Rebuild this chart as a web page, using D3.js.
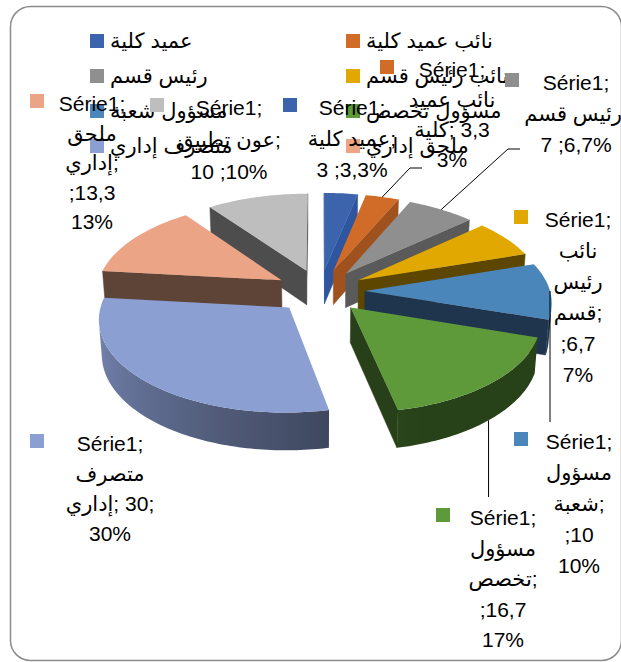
<!DOCTYPE html>
<html>
<head>
<meta charset="utf-8">
<script src="https://cdn.jsdelivr.net/npm/d3@7"></script>
<style>
body { margin: 0; background: #fff; }
svg text { font-family: "Liberation Sans", "DejaVu Sans", Arial, sans-serif; fill: #000; }
</style>
</head>
<body>
<div id="chart"></div>
<script>
// ---- data ----
var seriesName = "Série1";
var categories = ["عميد كلية", "نائب عميد كلية", "رئيس قسم", "نائب رئيس قسم", "مسؤول شعبة",
                  "مسؤول تخصص", "متصرف إداري", "ملحق إداري", "عون تطبيق"];
var values = [3.3, 3.3, 6.7, 6.7, 10, 16.7, 30, 13.3, 10];

// slice colours (top face / flat cut face)
var topColors  = ["#3B64AD", "#D06B28", "#8F8F8F", "#E0A800", "#4A86BA", "#5E9A3A", "#8C9FD3", "#EBA486", "#BEBEBE"];
var faceColors = ["#2D55A0", "#A0521E", "#5A5A5A", "#5C4600", "#1F344D", "#28401A", "#3E4766", "#5E4337", "#4D4D4D"];

// how Excel wrapped each data label (s = series, c = category, v = value, p = percent)
var labelLines = [
    ["{s};", "{c};", "{p} ;{v}%"],
    ["{s};", "{c0} {c1}", "{c2};\u200E {v}", "{p}%"],
    ["{s};", "{c};", "{p} ;{v}%"],
    ["{s};", "{c0}", "{c1}", "{c2};", ";{v}", "{p}%"],
    ["{s};", "{c0}", "{c1};", ";{v}", "{p}%"],
    ["{s};", "{c0}", "{c1};", ";{v}", "{p}%"],
    ["{s};", "{c0}", "{c1};\u200E {v};", "{p}%"],
    ["{s};", "{c0}", "{c1};", ";{v}", "{p}%"],
    ["{s};", "{c};", "{p} ;{v}%"]
];
// label placement: centre x, first baseline, key x, line height
var labelPos = [
    [352, 115, 283, 31],
    [452, 77, 380, 30],
    [576, 90, 505, 31],
    [578, 227, 514, 31],
    [579, 449, 514, 31],
    [503, 525, 436, 30.5],
    [110, 451, 30, 30],
    [92, 111, 30, 29.5],
    [229, 115, 150, 32]
];
// leader lines: where they end (start is computed on the slice)
var leaderEnds = [null, [[410, 168], [422, 168]], [[508, 149], [520, 149]], null,
                  [[null, 422]], [[null, 497]], null, null, null];

var width = 621, height = 662;

var svg = d3.select("#chart").append("svg")
    .attr("width", width)
    .attr("height", height);

var defs = svg.append("defs");

// chart border
svg.append("rect")
    .attr("x", 10.5).attr("y", 6.5)
    .attr("width", 611).attr("height", 654)
    .attr("rx", 20)
    .attr("fill", "#fff")
    .attr("stroke", "#8c8c8c")
    .attr("stroke-width", 1.5);

// ---- 3D view ----
var view = {cx: 320, cy: 291, R: 185, h: 40, explode: 45, tilt: 29 * Math.PI / 180, dist: 1480};
var cosT = Math.cos(view.tilt), sinT = Math.sin(view.tilt);
var cam = [0, view.dist * sinT, -view.dist * cosT];

function project(x, y, z) {
    var up = y * cosT + z * sinT;
    var depth = z * cosT - y * sinT;
    var s = view.dist / (view.dist + depth);
    return [view.cx + x * s, view.cy - up * s];
}
function world(o, a, r, y) {
    return [o[0] + r * Math.sin(a), y, o[1] + r * Math.cos(a)];
}
function pt(o, a, r, y) {
    var w = world(o, a, r, y);
    return project(w[0], w[1], w[2]);
}
function visible(p, n) {
    return (cam[0] - p[0]) * n[0] + (cam[1] - p[1]) * n[1] + (cam[2] - p[2]) * n[2] > 0;
}
function shade(col, f) {
    var c = d3.rgb(col);
    return d3.rgb(c.r * f, c.g * f, c.b * f).formatHex();
}
// light comes from the left: brighter side faces on the left
function sideFactor(a) {
    var deg = a * 180 / Math.PI;
    var f = 0.45 + 0.43 * (deg - 168) / 102;
    return Math.max(0.42, Math.min(0.9, f));
}

var line = d3.line();
var total = d3.sum(values);

var pie = d3.pie().sort(null).value(function(d) { return d; });
var arcs = pie(values);

arcs.forEach(function(d, i) {
    var mid = (d.startAngle + d.endAngle) / 2;
    d.index = i;
    d.mid = mid;
    d.off = [view.explode * Math.sin(mid), view.explode * Math.cos(mid)];
    var c = world(d.off, mid, view.R * 0.6, 0);
    d.depth = c[2] * cosT - c[1] * sinT;
});

// far slices first
var order = arcs.slice().sort(function(a, b) { return b.depth - a.depth; });

var pieG = svg.append("g").attr("class", "pie");

order.forEach(function(d) {
    var i = d.index, o = d.off, R = view.R, h = view.h;
    var g = pieG.append("g").attr("class", "slice");
    var a0 = d.startAngle, a1 = d.endAngle;

    // flat cut faces
    [[a0, [-Math.cos(a0), 0, Math.sin(a0)]], [a1, [Math.cos(a1), 0, -Math.sin(a1)]]].forEach(function(f) {
        var a = f[0];
        if (!visible(world(o, a, R / 2, -h / 2), f[1])) return;
        var poly = [pt(o, a, 0, 0), pt(o, a, R, 0), pt(o, a, R, -h), pt(o, a, 0, -h)];
        g.append("path")
            .attr("d", line(poly) + "Z")
            .attr("fill", faceColors[i])
            .attr("stroke", faceColors[i])
            .attr("stroke-width", 0.5);
    });

    // curved outer side: split into visible runs, each one path with a gradient
    var n = Math.max(2, Math.ceil((a1 - a0) / 0.02));
    var runs = [], cur = null;
    for (var k = 0; k < n; k++) {
        var s0 = a0 + (a1 - a0) * k / n, s1 = a0 + (a1 - a0) * (k + 1) / n, sm = (s0 + s1) / 2;
        if (visible(world(o, sm, R, -h / 2), [Math.sin(sm), 0, Math.cos(sm)])) {
            if (!cur) { cur = [s0]; runs.push(cur); }
            cur.push(s1);
        } else {
            cur = null;
        }
    }
    runs.forEach(function(run, r) {
        var topPts = run.map(function(a) { return pt(o, a, R, 0); });
        var botPts = run.map(function(a) { return pt(o, a, R, -h); }).reverse();
        var xs = topPts.map(function(p) { return p[0]; });
        var xmin = d3.min(xs), xmax = d3.max(xs);
        var id = "side" + i + "_" + r;
        var stops = run.map(function(a, k) {
            return {off: xmax > xmin ? (xs[k] - xmin) / (xmax - xmin) : 0, col: shade(topColors[i], sideFactor(a))};
        }).sort(function(p, q) { return p.off - q.off; });
        var grad = defs.append("linearGradient")
            .attr("id", id)
            .attr("gradientUnits", "userSpaceOnUse")
            .attr("x1", xmin).attr("y1", 0)
            .attr("x2", xmax).attr("y2", 0);
        stops.forEach(function(s) {
            grad.append("stop").attr("offset", s.off).attr("stop-color", s.col);
        });
        g.append("path")
            .attr("d", line(topPts.concat(botPts)) + "Z")
            .attr("fill", "url(#" + id + ")");
    });

    // top face
    var top = [pt(o, a0, 0, 0)];
    for (var k2 = 0; k2 <= n; k2++) top.push(pt(o, a0 + (a1 - a0) * k2 / n, R, 0));
    g.append("path")
        .attr("d", line(top) + "Z")
        .attr("fill", topColors[i]);
});

// ---- legend (only the rows that fit in the chart area) ----
var legendG = svg.append("g").attr("class", "legend");
categories.slice(0, 8).forEach(function(c, i) {
    var col = i % 2, row = Math.floor(i / 2);
    var x = col === 0 ? 90 : 346, y = 34 + row * 35;
    legendG.append("rect")
        .attr("x", x).attr("y", y)
        .attr("width", 14).attr("height", 14)
        .attr("fill", topColors[i]);
    legendG.append("text")
        .attr("x", x + 20).attr("y", y + 14)
        .attr("direction", "ltr")
        .attr("font-size", 21)
        .text(c);
});

// ---- data labels ----
function fmt(v) { return String(v).replace(".", ","); }

var labelG = svg.append("g").attr("class", "labels");
arcs.forEach(function(d, i) {
    var words = categories[i].split(" ");
    var pct = Math.round(values[i] / total * 100);
    var p = labelPos[i];
    var lines = labelLines[i].map(function(t) {
        return t.replace("{s}", seriesName)
            .replace("{c0}", words[0] || "")
            .replace("{c1}", words[1] || "")
            .replace("{c2}", words[2] || "")
            .replace("{c}", categories[i])
            .replace("{v}", fmt(values[i]))
            .replace("{p}", pct);
    });

    // leader line
    if (leaderEnds[i]) {
        var onBottom = Math.cos(d.mid) < -0.3;
        var start = pt(d.off, d.mid, view.R, onBottom ? -view.h : 0);
        var pts = [start].concat(leaderEnds[i].map(function(e) {
            return [e[0] === null ? start[0] : e[0], e[1]];
        }));
        labelG.append("path")
            .attr("d", line(pts))
            .attr("fill", "none")
            .attr("stroke", "#000")
            .attr("stroke-width", 1);
    }

    labelG.append("rect")
        .attr("x", p[2]).attr("y", p[1] - 17)
        .attr("width", 14).attr("height", 14)
        .attr("fill", topColors[i]);

    lines.forEach(function(l, j) {
        labelG.append("text")
            .attr("x", p[0])
            .attr("y", p[1] + j * p[3])
            .attr("text-anchor", "middle")
            .attr("direction", "ltr")
            .attr("font-size", 21)
            .text(l);
    });
});
</script>
</body>
</html>
